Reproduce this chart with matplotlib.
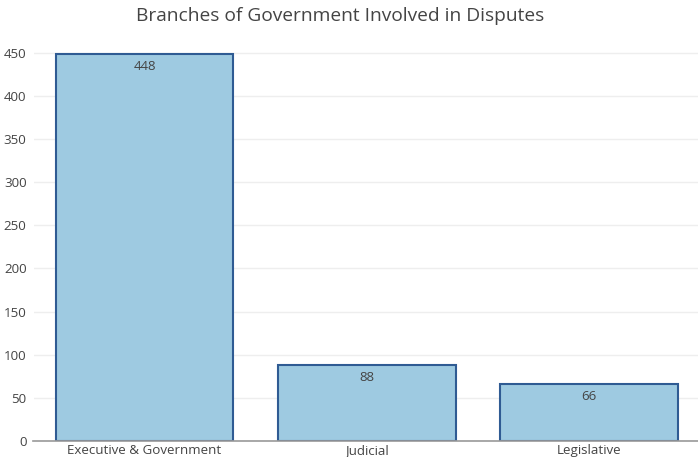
import matplotlib
matplotlib.use("Agg")
import matplotlib.pyplot as plt

categories = ["Executive & Government", "Judicial", "Legislative"]
values = [448, 88, 66]
yticks = [0, 50, 100, 150, 200, 250, 300, 350, 400, 450]

plt.rcParams['font.family'] = ['Open Sans', 'DejaVu Sans']

fig = plt.figure(figsize=(6.98, 4.57), dpi=100)
ax = fig.add_axes([33.5/698, 16/457, (700-33.5)/698, (441-34)/457])

x = list(range(len(categories)))
bars = ax.bar(x, values, width=0.8, color="#9ecae1", edgecolor="#2f5b93", linewidth=1.5, zorder=3)
for xi, v in zip(x, values):
    ax.annotate(str(v), (xi, v), xytext=(0, -4), textcoords="offset points",
                ha="center", va="top", fontsize=9.5, color="#444444", zorder=4)

ax.set_xlim(-0.5, 2.5)
ax.set_ylim(0, 471.6)
ax.set_yticks(yticks)
ax.set_xticks(x)
ax.set_xticklabels(categories)
ax.tick_params(axis="both", length=0, labelsize=9.6, labelcolor="#444444")
ax.tick_params(axis="x", pad=2)
ax.tick_params(axis="y", pad=5)
ax.grid(axis="y", color="#eeeeee", linewidth=1, zorder=0)
for s in ["top", "right", "left"]:
    ax.spines[s].set_visible(False)
ax.spines["bottom"].set_color("#999999")
ax.spines["bottom"].set_linewidth(1.2)
ax.spines["bottom"].set_zorder(5)

fig.text(340/698, 1 - 16/457, "Branches of Government Involved in Disputes",
         ha="center", va="center", fontsize=13.8, color="#444444")

fig.savefig("out.png", dpi=100)
